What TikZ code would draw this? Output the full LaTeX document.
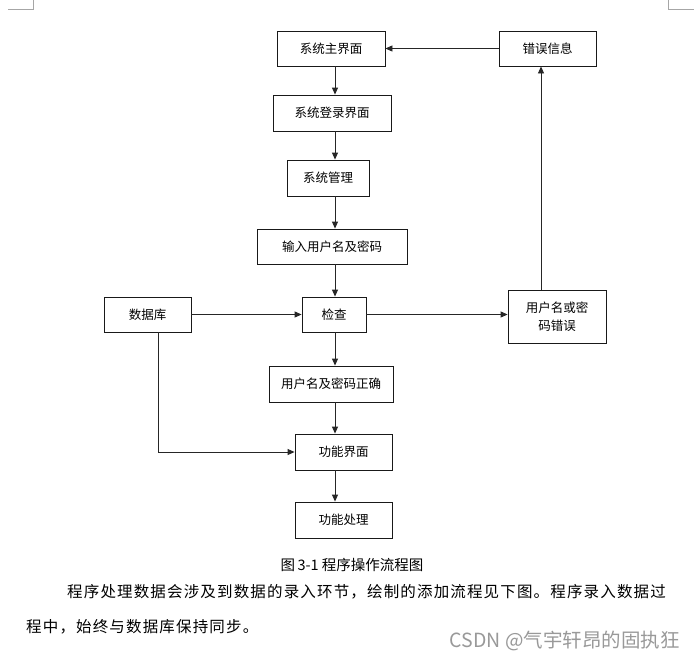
\documentclass[tikz,border=0pt]{standalone}
\usepackage{fontspec}
\setmainfont{Noto Sans CJK SC}
\usetikzlibrary{arrows.meta}
\begin{document}
\begin{tikzpicture}[x=1pt,y=-1pt,
  box/.style={draw=black!90, line width=0.85pt, inner sep=0pt, align=center,
    font=\fontsize{12.5}{18}\selectfont},
  conn/.style={draw=black!85, line width=0.85pt, -{Triangle[length=7pt,width=6pt]}},
  cropline/.style={draw=black!35, line width=0.6pt}]
\useasboundingbox (0,0) rectangle (694,662);
\fill[white] (0,0) rectangle (694,662);
% crop marks
\draw[cropline] (8,9) -- (33,9) -- (33,0);
\draw[cropline] (668,0) -- (668,9) -- (694,9);
% helper columns
\coordinate (spine) at (335,0);
\coordinate (rcol) at (541,0);
\coordinate (lcol) at (158,0);
% nodes
\node[box, minimum width=108, minimum height=35] (main)  at (331,48.5)   {系统主界面};
\node[box, minimum width=97,  minimum height=35] (msg)   at (547.5,48.5) {错误信息};
\node[box, minimum width=118, minimum height=36] (login) at (332,113)    {系统登录界面};
\node[box, minimum width=82,  minimum height=36] (mgmt)  at (328,178)    {系统管理};
\node[box, minimum width=150, minimum height=35] (input) at (332,246.5)  {输入用户名及密码};
\node[box, minimum width=87,  minimum height=35] (db)    at (147.5,314.5){数据库};
\node[box, minimum width=64,  minimum height=35] (check) at (334,314.5)  {检查};
\node[box, minimum width=98,  minimum height=53] (err)   at (557,316.5)  {用户名或密\\码错误};
\node[box, minimum width=124, minimum height=36] (ok)    at (331,384)    {用户名及密码正确};
\node[box, minimum width=97,  minimum height=36] (func)  at (343.5,452)  {功能界面};
\node[box, minimum width=97,  minimum height=36] (proc)  at (343.5,520)  {功能处理};
% connectors
\draw[conn] (main.south -| spine) -- (login.north -| spine);
\draw[conn] (login.south -| spine) -- (mgmt.north -| spine);
\draw[conn] (mgmt.south -| spine) -- (input.north -| spine);
\draw[conn] (input.south -| spine) -- (check.north -| spine);
\draw[conn] (db.east) -- (check.west);
\draw[conn] (check.east) -- (check.east -| err.west);
\draw[conn] (err.north -| rcol) -- (msg.south -| rcol);
\draw[conn] (msg.west) -- (main.east);
\draw[conn] (check.south -| spine) -- (ok.north -| spine);
\draw[conn] (ok.south -| spine) -- (func.north -| spine);
\draw[conn] (db.south -| lcol) |- (func.west);
\draw[conn] (func.south -| spine) -- (proc.north -| spine);
% caption and text
\node[inner sep=0pt, font=\fontsize{14.5}{16}\selectfont] (cap) at (352,565) {图\,3-1 程序操作流程图};
\node[inner sep=0pt, anchor=west, font=\fontsize{15.5}{18}\selectfont\addfontfeature{LetterSpace=7.5}] (l1) at (67,592)
  {程序处理数据会涉及到数据的录入环节，绘制的添加流程见下图。程序录入数据过};
\node[inner sep=0pt, anchor=west, font=\fontsize{15.5}{18}\selectfont\addfontfeature{LetterSpace=7.5}] (l2) at (26,627)
  {程中，始终与数据库保持同步。};
\node[inner sep=0pt, anchor=east, text=black!40, font=\fontsize{19.5}{21}\selectfont] (wm) at (680,641)
  {CSDN @气宇轩昂的固执狂};
\end{tikzpicture}
\end{document}
